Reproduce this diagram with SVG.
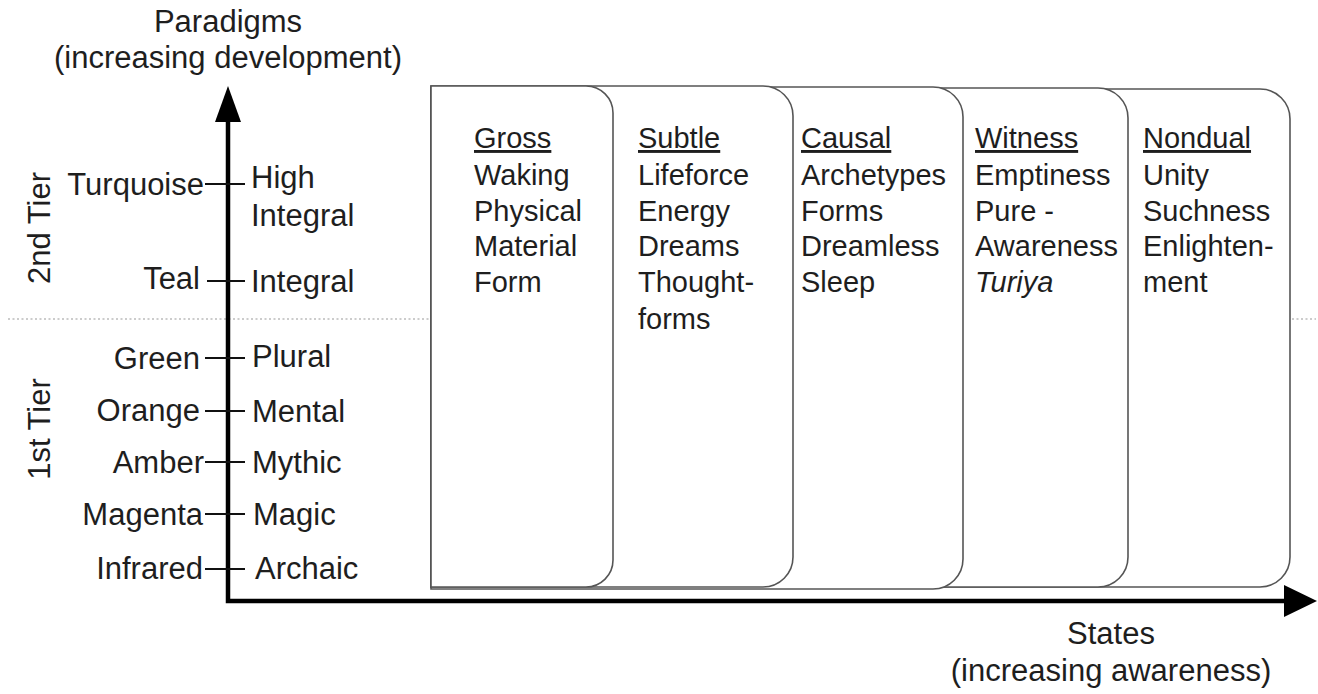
<svg xmlns="http://www.w3.org/2000/svg" width="1318" height="694" viewBox="0 0 1318 694">
<style>
text{font-family:"Liberation Sans",Arial,sans-serif;fill:#1e1e1e;}
.ax{font-size:31px;}
.bx{font-size:29px;}
.lbl{font-size:31px;}
.box{fill:#fff;stroke:#555;stroke-width:1.6;}
.tick{stroke:#111;stroke-width:2.2;}
.axis{stroke:#000;stroke-width:4.5;fill:none;}
.dot{stroke:#999;stroke-width:1.2;stroke-dasharray:2 2.5;}
.t{text-decoration:underline;}
</style>
<rect width="1318" height="694" fill="#fff"/>
<g id="guides">
<line class="dot" x1="8" y1="319" x2="430" y2="319"/>
<line class="dot" x1="1292" y1="319" x2="1316" y2="319"/>
</g>
<g id="box-nondual">
<path class="box" d="M431,89 H1260 A30,30 0 0 1 1290,119 V557 A30,30 0 0 1 1260,587 H431 Z"/>
<text class="bx" x="1143"><tspan class="t" x="1143" y="148">Nondual</tspan><tspan x="1143" y="185">Unity</tspan><tspan x="1143" y="221">Suchness</tspan><tspan x="1143" y="256">Enlighten-</tspan><tspan x="1143" y="292">ment</tspan></text>
</g>
<g id="box-witness">
<path class="box" d="M431,88 H1098 A30,30 0 0 1 1128,118 V557 A30,30 0 0 1 1098,587 H431 Z"/>
<text class="bx" x="975"><tspan class="t" x="975" y="148">Witness</tspan><tspan x="975" y="185">Emptiness</tspan><tspan x="975" y="221">Pure -</tspan><tspan x="975" y="256">Awareness</tspan><tspan x="975" y="292" font-style="italic">Turiya</tspan></text>
</g>
<g id="box-causal">
<path class="box" d="M431,87 H933 A30,30 0 0 1 963,117 V559 A30,30 0 0 1 933,589 H431 Z"/>
<text class="bx" x="801"><tspan class="t" x="801" y="148">Causal</tspan><tspan x="801" y="185">Archetypes</tspan><tspan x="801" y="221">Forms</tspan><tspan x="801" y="256">Dreamless</tspan><tspan x="801" y="292">Sleep</tspan></text>
</g>
<g id="box-subtle">
<path class="box" d="M431,86 H763 A30,30 0 0 1 793,116 V557 A30,30 0 0 1 763,587 H431 Z"/>
<text class="bx" x="638"><tspan class="t" x="638" y="148">Subtle</tspan><tspan x="638" y="185">Lifeforce</tspan><tspan x="638" y="221">Energy</tspan><tspan x="638" y="256">Dreams</tspan><tspan x="638" y="292">Thought-</tspan><tspan x="638" y="329">forms</tspan></text>
</g>
<g id="box-gross">
<path class="box" d="M431,86 H586 A27,27 0 0 1 613,113 V560 A27,27 0 0 1 586,587 H431 Z"/>
<text class="bx" x="474"><tspan class="t" x="474" y="148">Gross</tspan><tspan x="474" y="185">Waking</tspan><tspan x="474" y="221">Physical</tspan><tspan x="474" y="256">Material</tspan><tspan x="474" y="292">Form</tspan></text>
</g>
<g id="connectors">
<polyline class="axis" points="228,118 228,601 1288,601"/>
<polygon points="228,86 215,122 241,122" fill="#000"/>
<polygon points="1317,601 1284,585 1284,617" fill="#000"/>
<line class="tick" x1="205" y1="184" x2="245" y2="184"/>
<line class="tick" x1="207" y1="281" x2="245" y2="281"/>
<line class="tick" x1="205" y1="358" x2="245" y2="358"/>
<line class="tick" x1="205" y1="411" x2="245" y2="411"/>
<line class="tick" x1="205" y1="462" x2="245" y2="462"/>
<line class="tick" x1="205" y1="514" x2="245" y2="514"/>
<line class="tick" x1="205" y1="569" x2="245" y2="569"/>
</g>
<g id="axis-labels">
<text class="ax" x="228" y="32" text-anchor="middle">Paradigms</text>
<text class="ax" x="228" y="68" text-anchor="middle">(increasing development)</text>
<text class="ax" x="1111" y="644" text-anchor="middle">States</text>
<text class="ax" x="1111" y="681" text-anchor="middle">(increasing awareness)</text>
<text class="ax" transform="translate(50,228) rotate(-90)" text-anchor="middle">2nd Tier</text>
<text class="ax" transform="translate(50,429) rotate(-90)" text-anchor="middle">1st Tier</text>
</g>
<g id="levels">
<text class="lbl" x="204" y="195" text-anchor="end">Turquoise</text>
<text class="lbl" x="251" y="188">High</text>
<text class="lbl" x="251" y="226">Integral</text>
<text class="lbl" x="200" y="289" text-anchor="end">Teal</text>
<text class="lbl" x="251" y="292">Integral</text>
<text class="lbl" x="200" y="369" text-anchor="end">Green</text>
<text class="lbl" x="252" y="367">Plural</text>
<text class="lbl" x="200" y="421" text-anchor="end">Orange</text>
<text class="lbl" x="252" y="422">Mental</text>
<text class="lbl" x="204" y="473" text-anchor="end">Amber</text>
<text class="lbl" x="252" y="473">Mythic</text>
<text class="lbl" x="203" y="525" text-anchor="end">Magenta</text>
<text class="lbl" x="253" y="525">Magic</text>
<text class="lbl" x="203" y="579" text-anchor="end">Infrared</text>
<text class="lbl" x="255" y="579">Archaic</text>
</g>
</svg>
